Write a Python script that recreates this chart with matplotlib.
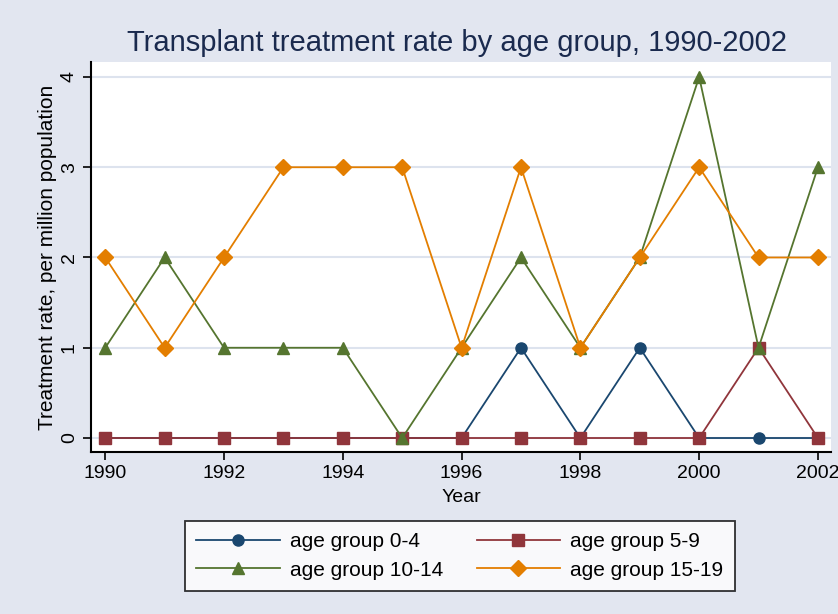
import matplotlib.pyplot as plt
from matplotlib.lines import Line2D

plt.rcParams['font.family'] = ['Liberation Sans', 'DejaVu Sans']

years = list(range(1990, 2003))
age_0_4 = [0, 0, 0, 0, 0, 0, 0, 1, 0, 1, 0, 0, 0]
age_5_9 = [0, 0, 0, 0, 0, 0, 0, 0, 0, 0, 0, 1, 0]
age_10_14 = [1, 2, 1, 1, 1, 0, 1, 2, 1, 2, 4, 1, 3]
age_15_19 = [2, 1, 2, 3, 3, 3, 1, 3, 1, 2, 3, 2, 2]

series = [
    ('age group 0-4', age_0_4, '#1a476f', 'o', 8),
    ('age group 5-9', age_5_9, '#90353b', 's', 8),
    ('age group 10-14', age_10_14, '#55752f', '^', 9),
    ('age group 15-19', age_15_19, '#e37e00', 'D', 8),
]

bg = '#e2e6f0'
fig = plt.figure(figsize=(8.38, 6.14), dpi=100, facecolor=bg)
ax = fig.add_axes([91 / 838, 1 - 452 / 614, 740 / 838, 390 / 614])
ax.set_facecolor('white')

ax.set_xlim(1989.76, 2002.22)
ax.set_ylim(-0.155, 4.166)

for lbl, vals, col, mk, ms in series:
    ax.plot(years, vals, color=col, marker=mk, markersize=ms, linewidth=1.3,
            label=lbl, zorder=3)

ax.set_xticks(range(1990, 2003, 2))
ax.set_yticks(range(0, 5))
ax.grid(axis='y', color='#dde3ee', linewidth=1.5, zorder=0)
ax.set_axisbelow(True)

for s in ['top', 'right']:
    ax.spines[s].set_visible(False)
for s in ['left', 'bottom']:
    ax.spines[s].set_linewidth(1.5)
    ax.spines[s].set_color('black')

ax.tick_params(axis='both', labelsize=14, length=6, width=1.2)
ax.tick_params(axis='y', labelrotation=90)
for t in ax.get_yticklabels():
    t.set_va('center')

ax.set_xlabel('Year', fontsize=14, labelpad=5)
ax.set_ylabel('Treatment rate, per million population', fontsize=15, labelpad=3)

fig.text(0.545, 1 - 43 / 614, 'Transplant treatment rate by age group, 1990-2002',
         ha='center', va='center', fontsize=21, color='#1a2a4e')

handles = [Line2D([0], [0], color=c, marker=m, markersize=ms, linewidth=1.3)
           for _, _, c, m, ms in series]
labels = [s[0] for s in series]
order = [0, 2, 1, 3]
leg = fig.legend([handles[i] for i in order], [labels[i] for i in order],
                 ncol=2, loc='center',
                 bbox_to_anchor=(460 / 838, 1 - 556 / 614),
                 fontsize=15, frameon=True, fancybox=False, edgecolor='black',
                 handlelength=4, handletextpad=0.5, columnspacing=1.6,
                 borderpad=0.55, labelspacing=0.45)
leg.get_frame().set_linewidth(1.3)

plt.savefig('out.png', dpi=100, facecolor=bg)
